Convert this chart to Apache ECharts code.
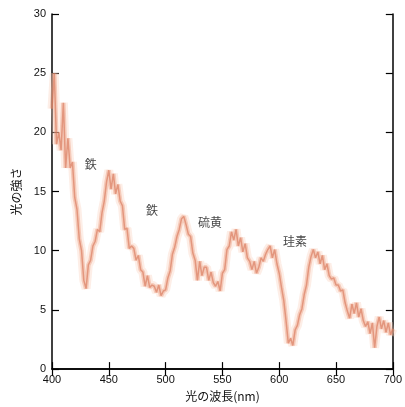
<!DOCTYPE html>
<html>
<head>
<meta charset="utf-8">
<script src="https://cdn.jsdelivr.net/npm/echarts@6/dist/echarts.min.js"></script>
<style>
  *{ margin:0; padding:0; }
  body{ background:#fff; }
  #chart{ width:405px; height:407px; }
</style>
</head>
<body>
<div id="chart"></div>
<script>
// 波長 400〜700nm を 2nm 刻みで読み取った光の強さ
const startNm = 400;
const stepNm = 2;
const intensity = [
  22, 25, 19, 20, 18.5, 22.5, 17, 19.5, 17, 17.5,
  14.5, 13.5, 11, 10, 7.5, 6.8, 8.8, 9.2, 10.4, 10.8,
  11.8, 11.6, 13.2, 14.2, 15.8, 16.8, 15.2, 16.5, 14.8, 15.6,
  14.2, 13.8, 11.8, 11.9, 10.2, 10.4, 10.2, 9.2, 9.6, 8.4,
  8.2, 7.0, 7.9, 6.9, 7.1, 7.0, 6.5, 7.1, 6.2, 6.6,
  6.7, 7.7, 8.3, 9.7, 10.3, 11.2, 11.8, 12.7, 12.9, 12.2,
  11.4, 11.2, 9.8, 9.2, 7.5, 9.1, 7.9, 8.6, 8.6, 7.5,
  8.2, 7.3, 7.0, 7.4, 6.6, 8.1, 8.4, 10.1, 10.4, 11.6,
  10.9, 11.8, 10.4, 11.1, 9.9, 10.6, 9.4, 9.1, 8.4, 9.1,
  8.1, 8.6, 9.4, 9.1, 9.7, 10.1, 10.4, 9.4, 10.1, 8.9,
  8.1, 6.9, 5.8, 4.1, 2.2, 2.6, 2.0, 3.3, 3.7, 4.6,
  5.1, 6.3, 7.1, 8.6, 9.5, 10.1, 9.4, 9.9, 8.9, 9.6,
  8.4, 8.9, 7.9, 7.6, 7.7, 7.1, 7.1, 6.6, 6.7, 5.6,
  4.9, 4.3, 5.5, 4.7, 5.6, 4.4, 5.1, 4.1, 3.6, 4.0,
  3.0, 3.9, 1.8, 3.6, 4.4, 3.4, 4.1, 3.1, 3.9, 2.9, 3.4
];

// 元素のラベル（波長, 強さ, 名前）
const labelNm = [434, 488, 539, 614];
const labelY = [17.3, 13.4, 12.4, 10.8];
const labelText = ['鉄', '鉄', '硫黄', '珪素'];

const xTicks = [400, 450, 500, 550, 600, 650, 700];
const yTicks = [0, 5, 10, 15, 20, 25, 30];

const spectrum = intensity.map((v, i) => [startNm + i * stepNm, v]);
const labels = labelNm.map((x, i) => ({ value: [x, labelY[i]], name: labelText[i] }));

const chart = echarts.init(document.getElementById('chart'));

const axisLine = { show: true, lineStyle: { color: '#000', width: 1.5 } };
const axisTick = { show: true, inside: true, length: 7, lineStyle: { color: '#000', width: 1.2 } };
const font = 'Liberation Sans, Arial, sans-serif';

chart.setOption({
  animation: false,
  grid: { left: 52, right: 10, top: 14, bottom: 35 },
  xAxis: [
    {
      type: 'value', min: xTicks[0], max: xTicks[xTicks.length - 1], interval: 50,
      axisLine, axisTick, splitLine: { show: false },
      axisLabel: { color: '#111', fontSize: 11, fontFamily: font, margin: 5 },
      name: '光の波長(nm)', nameLocation: 'middle', nameGap: 20,
      nameTextStyle: { color: '#111', fontSize: 12, fontFamily: 'Noto Sans CJK JP' }
    },
    {
      type: 'value', position: 'top', min: xTicks[0], max: xTicks[xTicks.length - 1], interval: 50,
      axisLine, axisTick, axisLabel: { show: false }, splitLine: { show: false }
    }
  ],
  yAxis: [
    {
      type: 'value', min: yTicks[0], max: yTicks[yTicks.length - 1], interval: 5,
      axisLine, axisTick, splitLine: { show: false },
      axisLabel: { color: '#111', fontSize: 11, fontFamily: font, margin: 6 },
      name: '光の強さ', nameLocation: 'middle', nameGap: 30,
      nameTextStyle: { color: '#111', fontSize: 12, fontFamily: 'Noto Sans CJK JP' }
    },
    {
      type: 'value', position: 'right', min: yTicks[0], max: yTicks[yTicks.length - 1], interval: 5,
      axisLine, axisTick, axisLabel: { show: false }, splitLine: { show: false }
    }
  ],
  series: [
    {
      // にじみ（外側）
      type: 'line', data: spectrum, showSymbol: false, silent: true,
      lineStyle: { color: 'rgba(250,205,185,0.35)', width: 9 }
    },
    {
      type: 'line', data: spectrum, showSymbol: false, silent: true,
      lineStyle: { color: 'rgba(238,160,130,0.45)', width: 4.5 }
    },
    {
      type: 'line', data: spectrum, showSymbol: false,
      lineStyle: { color: 'rgba(215,115,85,0.6)', width: 1.5 }
    },
    {
      type: 'scatter', data: labels, symbolSize: 0,
      label: {
        show: true, position: 'inside', formatter: p => p.name,
        color: '#111', fontSize: 12, fontFamily: 'Noto Sans CJK JP'
      }
    }
  ]
});
</script>
</body>
</html>
